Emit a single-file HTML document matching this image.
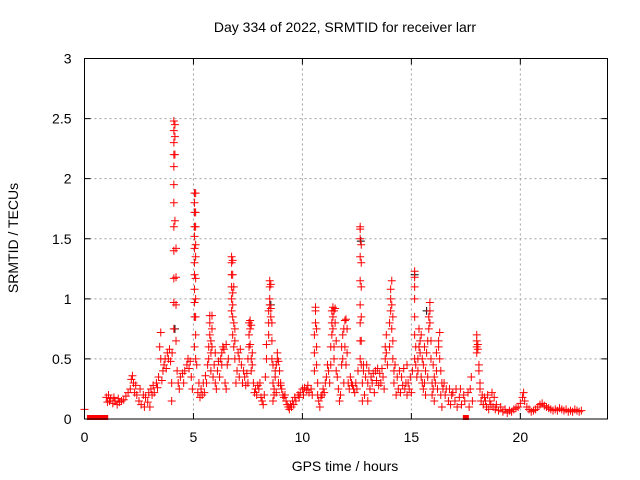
<!DOCTYPE html>
<html><head><meta charset="utf-8"><style>
body{margin:0;background:#fff}
svg{display:block;font-family:"Liberation Sans",sans-serif}
</style></head><body>
<svg id="chart" width="640" height="480" viewBox="0 0 640 480" xmlns="http://www.w3.org/2000/svg">
<rect width="640" height="480" fill="#fff"/>
<text x="345" y="32" font-size="14" text-anchor="middle">Day 334 of 2022, SRMTID for receiver larr</text>
<text x="345" y="471" font-size="14" text-anchor="middle">GPS time / hours</text>
<text transform="translate(18,238) rotate(-90)" font-size="14" text-anchor="middle">SRMTID / TECUs</text>
<g id="grid"></g>
<g id="ticks"></g>
<g id="marks"></g>
<rect x="84.5" y="58.5" width="523" height="360.5" fill="none" stroke="#000" stroke-width="1"/>
</svg>
<script>
const xTicks=[0,5,10,15,20];
const yTicks=[0,0.5,1,1.5,2,2.5,3];
const yTickLabels=["0","0.5","1","1.5","2","2.5","3"];
const zeroTimes=[0.25,0.35,0.45,0.55,0.65,0.75,0.85,0.95,17.5];
const redSamples=[
[0,0.08],[1.0,0.18],[1.05,0.14],[1.1,0.2],[1.15,0.15],[1.2,0.17],[1.3,0.13],[1.35,0.18],[1.4,0.15],[1.5,0.12],[1.55,0.17],[1.6,0.14],[1.7,0.15],[1.8,0.16],[1.9,0.19],[2.0,0.22],
[2.1,0.25],[2.15,0.33],[2.2,0.36],[2.25,0.3],[2.3,0.22],[2.35,0.28],[2.4,0.2],[2.5,0.15],[2.55,0.25],[2.6,0.12],[2.7,0.2],[2.75,0.1],[2.8,0.18],[2.9,0.14],[2.95,0.22],[3.0,0.1],[3.05,0.25],[3.1,0.2],[3.15,0.28],[3.2,0.22],[3.3,0.3],[3.35,0.26],[3.4,0.35],[3.45,0.6],[3.5,0.72,0.5],[3.55,0.32],[3.6,0.4],[3.65,0.45],[3.7,0.5],[3.75,0.42],[3.8,0.55],[3.85,0.5],[3.9,0.58],[3.95,0.48],[4.0,0.15,0.3],[4.02,0.55],
[4.1,0.75,0.97,1.17,1.4,1.6,1.8,1.95,2.1,2.2,2.3,2.4,2.48],[4.15,2.45,2.35,2.2,1.65],[4.2,0.65,0.95,1.18,1.42],[4.25,0.4],[4.3,0.3],[4.35,0.25],[4.4,0.35],[4.5,0.38],[4.55,0.3],[4.6,0.4],[4.7,0.45],[4.75,0.5],[4.8,0.42],[4.85,0.48],[4.9,0.35],[4.95,0.25],
[5.05,0.6,0.85,0.97,1.08,1.2,1.3,1.42,1.52,1.6,1.72,1.8,1.88],[5.1,0.5,0.7,0.85,1.0,1.17,1.35,1.45,1.6,1.72,1.88],
[5.15,0.45],[5.2,0.22],[5.25,0.3],[5.3,0.18],[5.35,0.25],[5.4,0.2],[5.45,0.3],[5.5,0.22],[5.55,0.36],[5.6,0.3],[5.65,0.45],[5.7,0.5,0.6],[5.75,0.7,0.8,0.86],[5.8,0.65,0.55,0.4],[5.85,0.6,0.75,0.86],[5.9,0.35],[5.95,0.45],[6.0,0.3,0.55],[6.05,0.25],[6.1,0.4],[6.15,0.48],[6.2,0.35],[6.25,0.5],[6.3,0.55,0.45],[6.35,0.6],[6.4,0.58],[6.45,0.3],[6.5,0.62,0.25],[6.55,0.45],[6.6,0.5],
[6.75,0.9,1.0,1.1,1.2,1.3,1.35],[6.8,0.7,0.85,0.95,1.05,1.2,1.32],[6.85,0.6,0.8,1.1],[6.9,0.5,0.65,0.75],
[6.95,0.3],[7.0,0.4],[7.05,0.55],[7.1,0.5,0.35],[7.15,0.58],[7.2,0.45],[7.25,0.3],[7.3,0.4],[7.35,0.35],[7.4,0.28],[7.45,0.38],[7.5,0.5,0.3],[7.55,0.7,0.8,0.6],[7.6,0.82,0.75,0.62],[7.65,0.78,0.5,0.4],[7.7,0.45,0.55],[7.75,0.3],[7.8,0.22],[7.85,0.25],[7.9,0.2],[7.95,0.28],[8.0,0.25],[8.05,0.3],[8.1,0.18],[8.15,0.15],[8.2,0.12],[8.25,0.2],[8.3,0.35],[8.35,0.5,0.62],
[8.45,0.7,0.8,0.9],[8.5,0.95,1.0,1.1,1.15],[8.55,1.12,0.92,0.85],[8.6,0.8,0.65,0.5],[8.65,0.45,0.3,0.15],[8.7,0.2,0.25],[8.75,0.35,0.4],[8.8,0.45,0.22],[8.85,0.55,0.5],[8.9,0.48,0.3],[8.95,0.4],[9.0,0.3,0.28],[9.05,0.25],[9.1,0.2],[9.15,0.18],[9.2,0.2],[9.25,0.15],[9.3,0.12],[9.35,0.1],[9.4,0.08],[9.45,0.12],[9.5,0.1],[9.55,0.15],[9.6,0.12],[9.65,0.18],[9.7,0.15],[9.8,0.2],[9.85,0.18],[9.9,0.22],[10.0,0.25],[10.05,0.2],[10.1,0.26],[10.2,0.24],[10.25,0.28],[10.3,0.22],[10.4,0.25],[10.45,0.2],
[10.55,0.4,0.55,0.7],[10.6,0.8,0.9,0.93],[10.65,0.75,0.6,0.45],[10.7,0.3,0.2],[10.75,0.15],[10.8,0.1],[10.85,0.18],[10.9,0.2],[10.95,0.25],[11.0,0.22],[11.05,0.3],[11.1,0.35],[11.15,0.45],[11.2,0.4],[11.25,0.3],[11.3,0.45,0.6],[11.35,0.7,0.8,0.9],[11.4,0.93,0.85,0.75],[11.45,0.9,0.6,0.5],[11.5,0.92,0.8],[11.55,0.65,0.4],[11.6,0.35],[11.65,0.25],[11.7,0.15],[11.75,0.2],[11.8,0.45,0.6],[11.85,0.7,0.5],[11.9,0.75,0.3],[11.95,0.82,0.6],[12.0,0.83,0.45],[12.05,0.75,0.55],[12.1,0.3],[12.15,0.25],[12.2,0.35],[12.25,0.3],[12.3,0.28],[12.35,0.25],[12.4,0.22],[12.45,0.3],[12.5,0.25],[12.55,0.4],
[12.65,0.5,0.65,0.8,0.95,1.15,1.35,1.5,1.58,1.6],[12.7,1.45,1.3,1.1,0.85,0.65,0.45],[12.75,0.3,0.15],[12.8,0.4,0.45],[12.85,0.2],[12.9,0.35],[12.95,0.45],[13.0,0.3,0.15],[13.05,0.4],[13.1,0.25],[13.15,0.35],[13.2,0.3],[13.25,0.38],[13.3,0.22],[13.35,0.4],[13.4,0.32],[13.45,0.42],[13.5,0.28],[13.55,0.38],[13.6,0.3],[13.65,0.42],[13.7,0.35],[13.75,0.25],[13.8,0.5,0.6],[13.85,0.7,0.55],[13.9,0.45],[14.0,0.6,0.8],[14.05,0.9,1.0,1.08],[14.1,1.15,0.95,0.75],[14.15,0.85,0.65,0.5],[14.2,0.4,0.3],[14.25,0.45],[14.3,0.2],[14.35,0.35],[14.4,0.25],[14.45,0.4],[14.5,0.22],[14.55,0.35],[14.6,0.28],[14.65,0.42],[14.7,0.25],[14.75,0.3],[14.8,0.45,0.2],[14.85,0.3],[14.9,0.25],[14.95,0.35],[15.0,0.22],[15.05,0.4],
[15.15,0.5,0.7,0.85,1.0,1.1,1.18,1.23],[15.2,0.6,0.45],[15.25,0.35],[15.3,0.5,0.4],[15.35,0.6,0.75],[15.4,0.55,0.65],[15.45,0.7,0.35],[15.5,0.5,0.3],[15.55,0.45,0.25],[15.6,0.3,0.6],[15.65,0.4,0.2],[15.7,0.55],[15.75,0.35,0.65],[15.8,0.75,0.85],[15.85,0.9,0.97,0.8],[15.9,0.65,0.5],[15.95,0.3,0.2],[16.0,0.25,0.45],[16.05,0.35,0.15],[16.1,0.3],[16.15,0.4,0.55],[16.2,0.25],[16.25,0.6,0.65],[16.3,0.5,0.72],[16.35,0.4,0.2],[16.4,0.3,0.1],[16.45,0.25],[16.5,0.3],[16.55,0.2],[16.6,0.25],[16.7,0.15],[16.75,0.25],[16.8,0.12],[16.85,0.2],[16.9,0.22],[17.0,0.15],[17.05,0.25],[17.1,0.1],[17.2,0.18],[17.25,0.25],[17.3,0.12],[17.4,0.2],[17.45,0.15],[17.6,0.22],[17.65,0.1],[17.7,0.25],[17.75,0.35],[17.8,0.15],
[18.0,0.55,0.6,0.65,0.7],[18.05,0.62,0.58],[18.1,0.45,0.4],[18.15,0.3,0.25],[18.2,0.15],[18.25,0.2],[18.3,0.12],[18.35,0.18],[18.4,0.15],[18.45,0.1],[18.5,0.2],[18.55,0.08],[18.6,0.15],[18.65,0.12],[18.7,0.22],[18.75,0.1],[18.8,0.18],[18.85,0.08],[18.9,0.12],[19.0,0.07],[19.1,0.1],[19.2,0.06],[19.3,0.08],[19.4,0.05],[19.5,0.07],[19.6,0.06],[19.7,0.08],[19.8,0.09],[19.9,0.1],[20.0,0.13],[20.1,0.18],[20.15,0.22],[20.2,0.15],[20.3,0.1],[20.4,0.08],[20.5,0.06],[20.6,0.07],[20.7,0.08],[20.8,0.1],[20.9,0.12],[21.0,0.13],[21.1,0.11],[21.2,0.1],[21.3,0.09],[21.4,0.08],[21.5,0.07],[21.6,0.08],[21.7,0.07],[21.8,0.09],[21.9,0.08],[22.0,0.07],[22.1,0.08],[22.2,0.06],[22.3,0.07],[22.4,0.06],[22.5,0.08],[22.6,0.07],[22.7,0.06],[22.8,0.07]
];
const blackSamples=[[4.15,0.75],[12.68,1.48],[15.15,1.2],[15.7,0.9],[8.55,0.95]];

const NS='http://www.w3.org/2000/svg';
const X0=84.5,X1=607.5,Y0=419,Y1=58.5,XMAX=24,YMAX=3;
function sx(t){return X0+(X1-X0)*t/XMAX;}
function sy(v){return Y0-(Y0-Y1)*v/YMAX;}
function mk(tag,attrs,parent){const e=document.createElementNS(NS,tag);for(const k in attrs)e.setAttribute(k,attrs[k]);parent.appendChild(e);return e;}
const grid=document.getElementById('grid'),ticks=document.getElementById('ticks'),marks=document.getElementById('marks');
xTicks.forEach((t,i)=>{
  const x=sx(t);
  if(t>0){const g=mk('line',{x1:x,x2:x,y1:Y1,y2:Y0,stroke:'#a0a0a0','stroke-dasharray':'2,3','stroke-width':1},grid);
  
  }
  const tk=mk('path',{d:`M${x},${Y0}v-6M${x},${Y1}v6`,stroke:'#000'},ticks);
  
  
  const lb=mk('text',{x:x,y:Y0+23,'font-size':14,'text-anchor':'middle'},ticks);
  lb.textContent=String(t);
  
  
});
yTicks.forEach((v,i)=>{
  const y=sy(v);
  if(v>0&&v<YMAX){const g=mk('line',{x1:X0,x2:X1,y1:y,y2:y,stroke:'#a0a0a0','stroke-dasharray':'2,3','stroke-width':1},grid);
  
  }
  const tk=mk('path',{d:`M${X0},${y}h6M${X1},${y}h-6`,stroke:'#000'},ticks);
  
  
  const lb=mk('text',{x:X0-13,y:y+5,'font-size':14,'text-anchor':'end'},ticks);
  lb.textContent=yTickLabels[i];
  
  
});
function plus(t,v,col){
  const x=sx(t),y=sy(v);
  const p=mk('path',{d:`M${x-4},${y}h8M${x},${y-4}v8`,stroke:col,'stroke-width':1},marks);
  
  
}
blackSamples.forEach(s=>{for(let k=1;k<s.length;k++)plus(s[0],s[k],'#000');});
redSamples.forEach(s=>{for(let k=1;k<s.length;k++)plus(s[0],s[k],'#ff0000');});
zeroTimes.forEach(t=>{
  const r=mk('rect',{x:sx(t)-3,y:sy(0)-4,width:6,height:5,fill:'#ff0000'},marks);
  
  
});
</script>
</body></html>
